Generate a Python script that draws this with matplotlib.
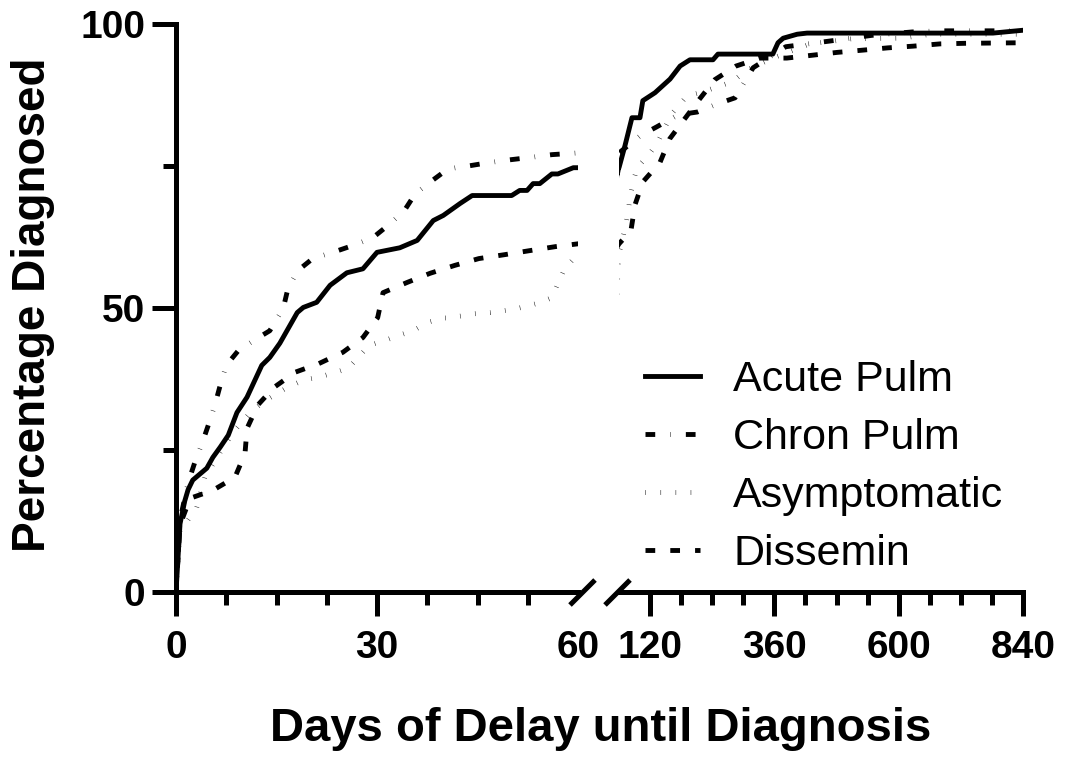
import numpy as np
import matplotlib.pyplot as plt
from matplotlib.lines import Line2D

plt.rcParams['font.family'] = ['Liberation Sans', 'DejaVu Sans']

# values (days, percent diagnosed)
acute_days = [0, 0.6, 1.3, 1.8, 2.5, 4.6, 5.5, 6.6, 7.8, 9.1, 10.6, 12.8, 14.0, 15.5, 18.1, 19.0,
              21.0, 23.0, 25.5, 27.9, 30.0, 33.4, 36.0, 38.4, 39.9, 42.4, 44.2, 50.1, 51.3, 52.4,
              53.3, 54.3, 56.1, 57.0, 59.3, 60,
              71.6, 85, 100.5, 106, 129.5, 158.5, 178, 197, 241.5, 251, 357, 367, 377, 404, 423, 782, 840]
acute_pct = [0, 12, 16, 18, 19.7, 21.8, 23.7, 25.5, 27.6, 31.6, 34.3, 39.9, 41.3, 43.8, 49.2, 50.1,
             51.0, 54.0, 56.2, 56.9, 59.8, 60.6, 61.9, 65.4, 66.3, 68.4, 69.8, 69.8, 70.7, 70.7,
             71.9, 71.9, 73.6, 73.6, 74.7, 74.7,
             78.6, 83.5, 83.5, 86.5, 87.9, 90.3, 92.6, 93.7, 93.7, 94.7, 94.7, 96.7, 97.5, 98.2, 98.4, 98.4, 98.9]

chron_days = [0, 0.6, 1.8, 2.8, 3.9, 4.8, 5.8, 6.6, 7.5, 9.3, 11.9, 14.0, 16.0, 16.7, 18.2, 20.4,
              23.4, 26.4, 29.4, 31.6, 34.0, 35.7, 38.2, 40.6, 43.6, 46.7, 49.9, 52.8, 56.1, 60,
              100.5, 133, 174, 211, 249, 284, 319, 382, 467, 548, 626, 680, 840]
chron_pct = [0, 12.7, 19.2, 22.8, 26.2, 29.3, 32.9, 36.4, 39.9, 42.5, 44.5, 46.0, 49.9, 53.4, 56.6, 58.7,
             59.8, 61.0, 62.4, 64.5, 67.0, 70.1, 72.4, 74.5, 75.0, 75.6, 76.1, 76.5, 77.0, 77.3,
             80.3, 81.9, 84.0, 84.5, 85.9, 87.0, 92.3, 96.0, 97.0, 98.0, 98.6, 98.8, 98.8]

asym_days = [0, 0.6, 1.8, 3.1, 4.3, 6.6, 8.8, 11.0, 13.3, 16.6, 19.0, 21.2, 23.4, 25.7, 27.2, 28.8,
             31.2, 33.3, 35.4, 37.6, 39.9, 42.1, 44.6, 46.9, 49.4, 51.6, 53.9, 56.1, 57.0, 58.0, 60,
             71.6, 77.4, 81.2, 87, 94.8, 116, 133, 162, 191, 220, 278, 307, 357, 429, 510, 603, 664, 840]
asym_pct = [0, 10.9, 12.7, 14.9, 20.2, 24.6, 28.5, 31.5, 33.7, 36.0, 37.3, 37.8, 38.5, 39.4, 41.3, 43.4,
            44.3, 45.2, 46.0, 47.5, 48.2, 48.5, 49.0, 49.2, 49.6, 50.1, 50.8, 51.8, 54.3, 56.9, 59.5,
            64.0, 66.8, 69.4, 72.0, 74.7, 76.8, 78.9, 84.2, 87.3, 88.0, 89.8, 91.9, 94.0, 96.5, 97.4, 97.5, 98.2, 98.2]

dissem_days = [0, 0.6, 2.1, 5.5, 8.8, 10.3, 10.6, 12.2, 14.6, 17.8, 21.3, 24.9, 27.9, 30.1, 30.9, 34.5,
               37.9, 41.6, 45.2, 49.1, 52.8, 56.6, 60,
               83, 91, 106, 139, 158, 214, 245, 286, 332, 384, 433, 481, 531, 579, 628, 680, 728, 840]
dissem_pct = [0, 11.8, 16.5, 17.9, 20.2, 24.4, 28.8, 32.9, 36.0, 38.7, 40.2, 42.2, 44.8, 48.3, 52.7, 54.5,
              56.1, 57.5, 58.7, 59.4, 60.1, 60.8, 61.3,
              63.6, 68.2, 72.2, 75.6, 79.8, 86.6, 90.2, 92.6, 94.0, 94.0, 94.5, 95.0, 95.4, 95.8, 96.1, 96.5, 96.6, 96.7]

series = [
    ('Acute Pulm', acute_days, acute_pct, '-'),
    ('Chron Pulm', chron_days, chron_pct, (0, (2, 3.1, 0.1, 3.1))),
    ('Asymptomatic', asym_days, asym_pct, (0, (0.1, 3.0))),
    ('Dissemin', dissem_days, dissem_pct, (0, (2, 3.1))),
]

W, H = 1074, 759
fig = plt.figure(figsize=(W / 100, H / 100), dpi=100)
bottom = 1 - 592 / H
height = 568 / H
ax1 = fig.add_axes([176 / W, bottom, 402 / W, height])
ax2 = fig.add_axes([619 / W, bottom, 404 / W, height])

lw = 3.5
for ax in (ax1, ax2):
    for name, d, p, ls in series:
        ax.plot(d, p, color='black', lw=lw, linestyle=ls, label=name, dash_capstyle='butt')
    ax.set_ylim(0, 100)
    ax.spines['top'].set_visible(False)
    ax.spines['right'].set_visible(False)
    for s in ('left', 'bottom'):
        ax.spines[s].set_linewidth(3.6)
    ax.tick_params(which='major', length=17, width=3.6, labelsize=28, pad=10)
    ax.tick_params(which='minor', length=9.5, width=3.6)

ax1.set_xlim(0, 60)
ax1.set_xticks([0, 30, 60])
ax1.set_xticks([7.5, 15, 22.5, 37.5, 45, 52.5], minor=True)
ax1.set_yticks([0, 50, 100])
ax1.set_yticks([25, 75], minor=True)
ax1.tick_params(axis='y', which='major', pad=5)
ax1.set_xticklabels(['0', '30', '60'], fontweight='bold')
ax1.set_yticklabels(['0', '50', '100'], fontweight='bold')
ax1.xaxis.get_major_ticks()[-1].tick1line.set_visible(False)

ax2.set_xlim(60, 840)
ax2.set_xticks([120, 360, 600, 840])
ax2.set_xticks([180, 240, 300, 420, 480, 540, 660, 720, 780], minor=True)
ax2.set_xticklabels(['120', '360', '600', '840'], fontweight='bold')
ax2.spines['left'].set_visible(False)
ax2.tick_params(axis='y', which='both', left=False, labelleft=False)

# break marks
mk = dict(marker=[(-1, -1), (1, 1)], markersize=18, color='k', mec='k', mew=3.6,
          linestyle='none', clip_on=False)
ax1.plot([1.01], [0], transform=ax1.transAxes, **mk)
ax2.plot([-0.005], [0], transform=ax2.transAxes, **mk)

fig.text(33 / W, 1 - 305 / H, 'Percentage Diagnosed', fontsize=33, fontweight='bold',
         rotation=90, ha='center', va='center')
fig.text(601 / W, 1 - 729 / H, 'Days of Delay until Diagnosis', fontsize=34,
         fontweight='bold', ha='center', va='center')

handles = [Line2D([], [], color='black', lw=lw, linestyle=ls, dash_capstyle='butt')
           for _, _, _, ls in series]
fig.legend(handles, [s[0] for s in series], loc='center left',
           bbox_to_anchor=(645 / W, 1 - 467 / H), frameon=False, fontsize=31,
           handlelength=1.28, handletextpad=0.77, labelspacing=0.42,
           borderpad=0, borderaxespad=0)

fig.savefig('out.png', dpi=100)
